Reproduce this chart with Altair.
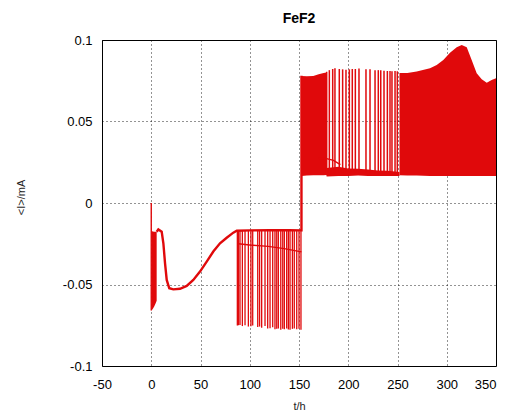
import altair as alt
import pandas as pd

RED = "#e0090b"
FONT = "Liberation Sans"

chart_title = ["FeF2"]

# ---- early dense oscillation block (t in h, I in mA)
osc_t = [0.3, 1.5, 3.0, 4.5, 5.5]
osc_top = [-0.0170, -0.0175, -0.0176, -0.0176, -0.0176]
osc_bottom = [-0.0660, -0.0650, -0.0635, -0.0615, -0.0600]

# ---- main curve (relaxation, plateau, jump)
curve_t = [5.5, 7.2, 10.6, 12.3, 14.0, 15.7, 18.3, 22.4, 29.2, 36.0, 42.7, 49.5,
           56.3, 63.0, 69.8, 76.6, 83.3, 86.8, 100.0, 120.0, 140.0, 152.5, 152.5]
curve_i = [-0.0176, -0.0162, -0.0176, -0.0247, -0.0370, -0.0472, -0.0523, -0.0530,
           -0.0526, -0.0509, -0.0472, -0.0421, -0.0360, -0.0298, -0.0247, -0.0213,
           -0.0182, -0.0170, -0.0168, -0.0167, -0.0167, -0.0168, 0.0780]

# ---- start spike at t = 0
start_t = [0.0]
start_top = [0.0]
start_bottom = [-0.0660]

# ---- lower trace during 87-152 h
low_trace_t = [88.4, 100.0, 118.8, 135.0, 152.5]
low_trace_i = [-0.0250, -0.0258, -0.0266, -0.0280, -0.0300]

# ---- downward spikes 87-152 h
dn_spike_t = [87.4, 88.6, 90.1, 92.5, 95.2, 98.6, 101.2, 103.0, 108.1, 110.0, 112.1,
              115.5, 118.2, 120.6, 123.3, 125.6, 127.4, 129.0, 131.5, 133.5, 135.1,
              137.5, 139.2, 140.9, 143.3, 145.2, 147.7, 150.0, 152.0]
dn_spike_bottom = [-0.0752, -0.0750, -0.0748, -0.0755, -0.0750, -0.0758, -0.0756,
                   -0.0752, -0.0760, -0.0758, -0.0765, -0.0755, -0.0770, -0.0768,
                   -0.0762, -0.0775, -0.0772, -0.0770, -0.0778, -0.0772, -0.0775,
                   -0.0770, -0.0776, -0.0778, -0.0772, -0.0770, -0.0775, -0.0772,
                   -0.0778]

# ---- upper dense block 1 (152.5-178 h)
blk1_t = [152.5, 158.0, 164.5, 170.0, 175.0, 178.0]
blk1_top = [0.0779, 0.0777, 0.0779, 0.0790, 0.0798, 0.0800]
blk1_bottom = [0.0165, 0.0168, 0.0170, 0.0170, 0.0170, 0.0172]

# ---- upper trace just after block 1
up_trace_t = [170.0, 178.0, 185.0, 192.0]
up_trace_i = [0.0274, 0.0272, 0.0262, 0.0235]

# ---- ragged low band of the high state (178-252 h)
low_band_t = [178.0, 190.0, 200.0, 210.0, 220.0, 230.0, 240.0, 252.0]
low_band_top = [0.0215, 0.0222, 0.0212, 0.0210, 0.0206, 0.0200, 0.0198, 0.0190]
low_band_bottom = [0.0162, 0.0165, 0.0165, 0.0168, 0.0166, 0.0165, 0.0165, 0.0165]

# ---- upward spikes 178-252 h
up_spike_t = [178.1, 180.8, 184.2, 186.5, 190.9, 194.3, 197.7, 201.1, 204.1, 207.2,
              210.9, 218.0, 222.1, 227.2, 230.5, 233.0, 236.3, 239.7, 242.4, 244.4,
              247.5, 249.8]
up_spike_top = [0.0805, 0.0815, 0.0822, 0.0826, 0.0822, 0.0820, 0.0818, 0.0820,
                0.0822, 0.0822, 0.0825, 0.0820, 0.0820, 0.0815, 0.0815, 0.0815,
                0.0812, 0.0810, 0.0810, 0.0808, 0.0810, 0.0808]
up_spike_bottom = [0.0170, 0.0175, 0.0180, 0.0180, 0.0185, 0.0185, 0.0190, 0.0185,
                   0.0190, 0.0185, 0.0180, 0.0185, 0.0180, 0.0180, 0.0175, 0.0180,
                   0.0175, 0.0175, 0.0172, 0.0172, 0.0170, 0.0170]

# ---- upper dense block 2 (252-350 h)
blk2_t = [252.0, 260.0, 269.5, 283.0, 289.8, 296.5, 303.3, 310.1, 315.2, 320.3,
          325.3, 330.4, 335.5, 340.6, 345.6, 350.0]
blk2_top = [0.0798, 0.0798, 0.0806, 0.0826, 0.0847, 0.0877, 0.0922, 0.0955, 0.0969,
            0.0955, 0.0877, 0.0796, 0.0759, 0.0738, 0.0755, 0.0765]
blk2_bottom = [0.0170, 0.0168, 0.0168, 0.0166, 0.0165, 0.0165, 0.0165, 0.0165,
               0.0165, 0.0165, 0.0165, 0.0165, 0.0165, 0.0165, 0.0165, 0.0165]

x_ticks = [-50, 0, 50, 100, 150, 200, 250, 300, 350]
y_ticks = [-0.1, -0.05, 0, 0.05, 0.1]

xs = alt.Scale(domain=[-50, 350], nice=False, zero=False)
ys = alt.Scale(domain=[-0.1, 0.1], nice=False, zero=False)

X = alt.X("t:Q", scale=xs, axis=alt.Axis(
    values=x_ticks, title="t/h", labelExpr="toString(datum.value)",
    labelFlush=False, labelOverlap=False,
    labelAlign={"condition": {"test": "datum.value == 350", "value": "right"},
                "value": "center"},
    titleX=197, titleY=43, titleBaseline="alphabetic"))
Y = alt.Y("i:Q", scale=ys, axis=alt.Axis(
    values=y_ticks, title="<I>/mA", labelExpr="toString(datum.value)",
    labelFlush=False, labelOverlap=False,
    titleX=-81, titleY=157, titleAngle=270, titleBaseline="middle",
    titleAlign="center"))


def band(t, top, bottom):
    df = pd.DataFrame({"t": t, "i": top, "i2": bottom})
    return alt.Chart(df).mark_area(color=RED, opacity=1, interpolate="linear").encode(
        x=X, y=Y, y2="i2:Q")


def line(t, vals, width=1.6):
    df = pd.DataFrame({"t": t, "i": vals, "k": list(range(len(t)))})
    return alt.Chart(df).mark_line(color=RED, strokeWidth=width).encode(
        x=X, y=Y, order="k:Q")


def spikes(t, a, b, width=1.1):
    df = pd.DataFrame({"t": t, "i": a, "i2": b})
    return alt.Chart(df).mark_rule(color=RED, strokeWidth=width).encode(
        x=X, y=Y, y2="i2:Q")


dn_top = [-0.0168] * len(dn_spike_t)

title_layer = alt.Chart(pd.DataFrame({"label": chart_title})).mark_text(
    font=FONT, fontSize=14, fontWeight="bold", color="black",
    align="center", baseline="alphabetic"
).encode(text="label:N", x=alt.value(197), y=alt.value(-17))

layers = [
    band(osc_t, osc_top, osc_bottom),
    spikes(start_t, start_top, start_bottom, 1.4),
    line(curve_t, curve_i, 2.4),
    line(low_trace_t, low_trace_i, 1.4),
    spikes(dn_spike_t, dn_top, dn_spike_bottom, 1.3),
    band(blk1_t, blk1_top, blk1_bottom),
    line(up_trace_t, up_trace_i, 1.4),
    band(low_band_t, low_band_top, low_band_bottom),
    spikes(up_spike_t, up_spike_top, up_spike_bottom, 1.5),
    band(blk2_t, blk2_top, blk2_bottom),
    title_layer,
]

chart = alt.layer(*layers).properties(
    width=394, height=326,
    autosize=alt.AutoSizeParams(type="none"),
    padding={"left": 94, "top": 32, "right": 2, "bottom": 45},
).configure_view(
    stroke="black", strokeWidth=1
).configure_axis(
    grid=True, gridColor="black", gridDash=[1, 3], gridOpacity=0.85, gridWidth=1,
    ticks=False, domain=False,
    labelFont=FONT, labelFontSize=13, labelColor="black",
    titleFont=FONT, titleFontSize=11, titleFontWeight="normal", titleColor="#222222",
).configure_axisX(
    labelPadding=18, labelBaseline="middle"
).configure_axisY(
    labelPadding=10
)

chart.save("out.html", embed_options={"renderer": "svg", "actions": False})
